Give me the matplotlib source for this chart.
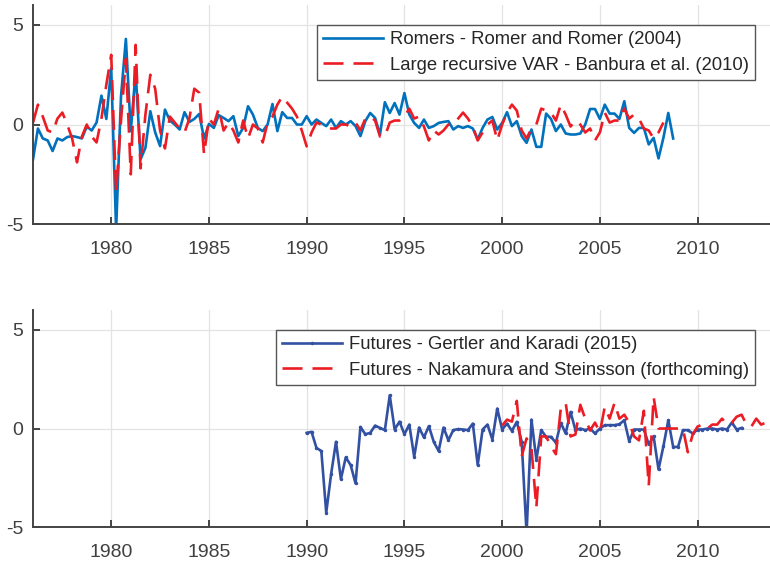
import numpy as np
import matplotlib
matplotlib.use("Agg")
from matplotlib import pyplot as plt

# quarterly series, values
romers_start = 1976.0
romers = [
    -1.75, -0.2, -0.7, -0.8, -1.33, -0.7, -0.8, -0.63, -0.58, -0.63,
    -0.7, -0.1, -0.3, 0.1, 1.45, 0.28, 2.83, -5.3, 1.4, 4.3,
    -0.33, 2.67, -1.75, -1.17, 0.67, -0.4, -1.08, 0.75, 0.2, 0.0,
    -0.25, 0.62, 0.13, 0.28, 0.53, -0.7, 0.03, -0.17, 0.47, 0.33,
    0.17, 0.42, -0.58, -0.17, 0.92, 0.5, -0.17, -0.33, 0.0, 1.03,
    -0.33, 0.62, 0.33, 0.33, 0.0, 0.0, 0.42, 0.0, 0.25, 0.08,
    -0.08, 0.25, -0.17, 0.17, 0.0, 0.17, -0.08, -0.58, 0.17, 0.58,
    0.33, -0.5, 1.12, 0.58, 1.08, 0.5, 1.58, 0.5, 0.08, -0.17,
    0.25, -0.17, -0.08, 0.08, 0.13, 0.17, -0.25, -0.08, -0.17,
    -0.08, -0.2, -0.75, -0.17, 0.25, 0.38, -0.25, 0.08, 0.62, -0.08,
    0.17, -0.58, -0.92, -0.25, -1.12, -1.12, 0.55, 0.28, -0.33, 0.0,
    -0.45, -0.5, -0.5, -0.45, 0.0, 0.78, 0.78, 0.28, 1.0, 0.55,
    0.55, 0.28, 1.17, -0.17, -0.42, -0.17, -0.17, -1.0, -0.67, -1.7,
    -0.67, 0.58, -0.7,
]

banbura_start = 1976.0
banbura = [
    0.1, 1.0, 0.4, -0.3, -0.4, 0.3, 0.6, 0.0, -0.7, -1.9,
    -0.6, 0.0, -0.6, -0.9, 0.3, 2.0, 3.5, -3.4, 0.2, 3.3,
    -2.5, 4.0, -2.2, 0.5, 2.5, 1.8, -0.3, -1.2, 0.4, 0.1,
    -0.2, -0.4, 0.3, 1.8, 1.6, -1.5, 0.3, 0.0, 0.8, -0.3,
    0.1, -0.3, -0.9, 0.2, -0.7, 0.0, -0.2, -0.9, 0.1, 0.4,
    1.0, 1.4, 1.1, 0.8, 0.4, -0.3, -1.1, -0.4, 0.1, 0.0,
    -0.1, -0.2, -0.2, 0.0, 0.0, -0.1, 0.1, -0.3, 0.3, 0.4,
    0.2, -0.6, -0.6, 0.1, 0.2, 0.2, 0.4, 0.8, 0.3, 0.4,
    -0.1, -0.8, -0.3, -0.5, -0.3, 0.0, 0.0, 0.3, 0.6, 0.3,
    -0.1, -0.8, -0.4, 0.0, 0.2, -0.8, 0.0, 0.6, 1.0, 0.7,
    -0.3, -0.7, -0.2, 0.0, 0.8, 0.7, 0.6, 0.2, 1.0, 0.5,
    -0.1, 0.2, 0.0, -0.4, -0.2, -0.8, -0.4, 0.6, 0.1, 0.2,
    0.2, 0.8, 0.3, 0.5, 0.3, -0.2, -0.3, -0.7, -0.4, 0.1,
]

gk_start = 1990.0
gertler_karadi = [
    -0.22, -0.17, -0.98, -1.14, -4.26, -2.31, -0.67, -2.56, -1.46, -1.85,
    -2.78, 0.08, -0.29, -0.22, 0.15, 0.03, -0.08, 1.68, -0.05, 0.35,
    -0.29, 0.2, -1.43, 0.05, -0.45, 0.12, -0.67, -1.14, 0.05, -0.59,
    -0.08, -0.03,
    -0.05, -0.08, 0.25, -1.85, -0.05, 0.2, -0.56, 1.01, -0.05, 0.25,
    -0.12, 0.34, -0.67, -5.3, 0.45, -1.57, -0.08, -0.42, -0.42, -0.72,
    0.29, -0.25, 0.84, -0.08, 0.0, -0.08, 0.0, -0.25, 0.0, 0.17,
    0.17, 0.17, 0.22, 0.42,
    -0.64, -0.05, -0.05, -0.05, -0.8, -0.4, -2.07, -0.9, 0.42, -0.93,
    -0.93, -0.08, -0.08, -0.25, -0.05, -0.05, 0.0, 0.0, -0.05, 0.0,
    -0.05, 0.3, -0.05, 0.03,
]

ns_start = 2000.0
nakamura_steinsson = [
    0.15, 0.45, 0.35, 1.4, -1.4, -0.5, -1.0, -4.0, -0.4, -0.4,
    -0.9, -1.3, 1.0, 1.3, -0.4, -0.3, 1.2, 0.5, -0.1, 0.3,
    -0.2, 1.1, 0.5, 1.3, 0.5, 0.7, 0.3, -0.4, -0.6, 0.9,
    -2.9, 1.6, 0.0, 0.0, 0.0, 0.0, 0.0, 0.0, -1.2, -0.3,
    0.1, 0.2, 0.0, 0.2, 0.2, 0.5, 0.2, 0.3, 0.6, 0.7,
    0.2, 0.1, 0.5, 0.2, 0.3, 0.3, 0.3,
]

year_ticks = [1980, 1985, 1990, 1995, 2000, 2005, 2010]
shock_ticks = [-5, 0, 5]

labels_top = ["Romers - Romer and Romer (2004)",
              "Large recursive VAR - Banbura et al. (2010)"]
labels_bottom = ["Futures - Gertler and Karadi (2015)",
                 "Futures - Nakamura and Steinsson (forthcoming)"]

BLUE = "#0072BD"
DARK_BLUE = "#3351A3"
RED = "#EC1C24"
DASH = (0, (14.4, 7.2))


def quarters(start, values):
    return start + 0.25 * np.arange(len(values))


def style_axes(ax):
    ax.set_xlim(1976, 2013.7)
    ax.set_ylim(-5, 6)
    ax.set_xticks(year_ticks)
    ax.set_yticks(shock_ticks)
    ax.grid(True, color="#e3e3e3", linewidth=0.9)
    ax.set_axisbelow(True)
    for side in ["top", "right"]:
        ax.spines[side].set_visible(False)
    for side in ["left", "bottom"]:
        ax.spines[side].set_color("#444444")
        ax.spines[side].set_linewidth(1.4)
    ax.tick_params(direction="in", length=5, width=1.4, color="#444444",
                   labelsize=14, labelcolor="#404040")
    ax.tick_params(axis="x", pad=12)
    ax.tick_params(axis="y", pad=7)


plt.rcParams["font.family"] = ["Liberation Sans", "DejaVu Sans"]
plt.rcParams["axes.unicode_minus"] = False
plt.rcParams["lines.scale_dashes"] = False

fig = plt.figure(figsize=(7.7, 5.63), dpi=100)
ax1 = fig.add_axes([0.0429, 0.602, 0.957, 0.389])
ax2 = fig.add_axes([0.0429, 0.0634, 0.957, 0.386])

ax1.plot(quarters(romers_start, romers), romers, color=BLUE, lw=1.9,
         label=labels_top[0])
ax1.plot(quarters(banbura_start, banbura), banbura, color=RED, lw=1.9,
         linestyle=DASH, label=labels_top[1])

ax2.plot(quarters(gk_start, gertler_karadi), gertler_karadi, color=DARK_BLUE,
         lw=1.9, marker=".", markersize=3, label=labels_bottom[0])
ax2.plot(quarters(ns_start, nakamura_steinsson), nakamura_steinsson,
         color=RED, lw=1.9, linestyle=DASH, label=labels_bottom[1])

for ax in [ax1, ax2]:
    style_axes(ax)
    leg = ax.legend(loc="upper right", bbox_to_anchor=(0.98, 0.909),
                    borderaxespad=0, fontsize=13.3, handlelength=3.25,
                    handletextpad=0.35, labelspacing=0.45, borderpad=0.35,
                    fancybox=False, framealpha=1, edgecolor="#555555")
    leg.get_frame().set_linewidth(1.0)
    for t in leg.get_texts():
        t.set_color("#262626")

fig.savefig("out.png", dpi=100)
